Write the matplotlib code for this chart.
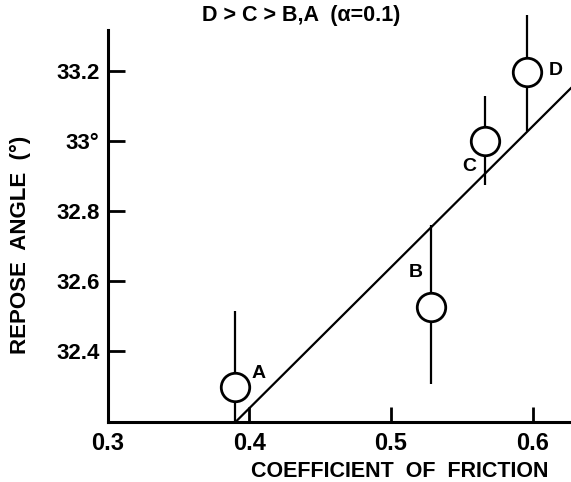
import matplotlib
matplotlib.use('Agg')
import matplotlib.pyplot as plt

# friction coefficient vs repose angle for 4 materials
names = ['A', 'B', 'C', 'D']
coef = [0.390, 0.528, 0.566, 0.596]
angle = [32.296, 32.524, 33.0, 33.197]
err_low = [0.101, 0.219, 0.126, 0.171]
err_high = [0.216, 0.236, 0.126, 0.162]

# regression line end points
fit_x = [0.390, 0.627]
fit_y = [32.195, 33.15]

xticks = [0.3, 0.4, 0.5, 0.6]
xticklabels = ['0.3', '0.4', '0.5', '0.6']
yticks = [32.4, 32.6, 32.8, 33.0, 33.2]
yticklabels = ['32.4', '32.6', '32.8', '33°', '33.2']

plt.rcParams['font.family'] = ['Liberation Sans', 'DejaVu Sans']
plt.rcParams['font.weight'] = 'bold'

fig = plt.figure(figsize=(5.71, 4.82), dpi=100)
ax = fig.add_axes([0.1886, 0.1239, 0.8114, 0.8139])

ax.plot(fit_x, fit_y, color='black', lw=1.6, zorder=2)
ax.errorbar(coef, angle, yerr=[err_low, err_high], fmt='none',
            ecolor='black', elinewidth=1.6, capsize=0, zorder=2, clip_on=False)
ax.plot(coef, angle, 'o', ms=20.5, mfc='white', mec='black', mew=2,
        zorder=3, clip_on=False, ls='none')

offsets = [(17, 10), (-11, 25), (-11, -19), (21, 1)]
for i in range(len(names)):
    ax.annotate(names[i], (coef[i], angle[i]), xytext=offsets[i],
                textcoords='offset points', ha='center', va='center',
                fontsize=14, fontweight='bold')

ax.set_xlim(0.3, 0.627)
ax.set_ylim(32.195, 33.316)

for s in ['top', 'right']:
    ax.spines[s].set_visible(False)
ax.spines['left'].set_linewidth(2.2)
ax.spines['bottom'].set_linewidth(2.2)

ax.set_xticks(xticks)
ax.set_xticklabels(xticklabels, fontsize=17, fontweight='bold')
ax.set_yticks(yticks)
ax.set_yticklabels(yticklabels, fontsize=16, fontweight='bold')
ax.tick_params(axis='x', direction='in', length=11, width=2, pad=7)
ax.tick_params(axis='y', direction='in', length=12, width=2, pad=6)

fig.text(0.70, 0.021, 'COEFFICIENT  OF  FRICTION', ha='center', va='center',
         fontsize=15.5, fontweight='bold')
fig.text(0.036, 0.492, 'REPOSE  ANGLE  (°)', ha='center', va='center',
         rotation=90, fontsize=16, fontweight='bold')
fig.text(0.527, 0.968, 'D > C > B,A  (α=0.1)', ha='center', va='center',
         fontsize=15.5, fontweight='bold')

fig.savefig('out.png', dpi=100)
